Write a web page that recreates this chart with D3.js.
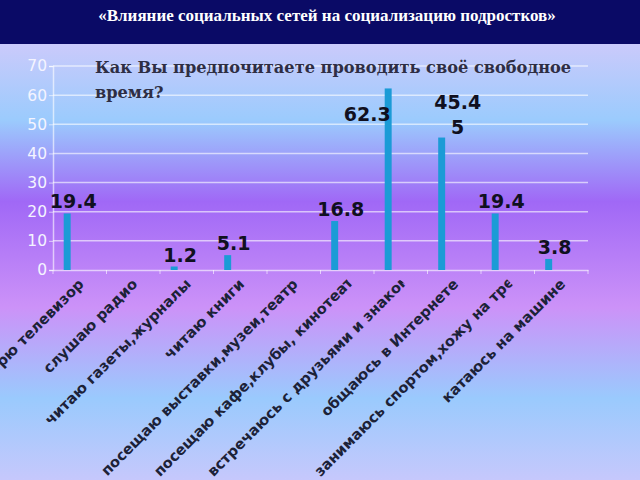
<!DOCTYPE html>
<html><head><meta charset="utf-8">
<script src="https://cdn.jsdelivr.net/npm/d3@7/dist/d3.min.js"></script>
<style>html,body{margin:0;padding:0;overflow:hidden;background:#fff}</style>
</head><body>
<script>
const headerTitle = "«Влияние социальных сетей на социализацию подростков»";
const questionLines = ["Как Вы предпочитаете проводить своё свободное", "время?"];
const categories = [
  "смотрю телевизор",
  "слушаю радио",
  "читаю газеты,журналы",
  "читаю книги",
  "посещаю выставки,музеи,театр",
  "посещаю кафе,клубы, кинотеатры",
  "встречаюсь с друзьями и знакомыми",
  "общаюсь в Интернете",
  "занимаюсь спортом,хожу на тренировки",
  "катаюсь на машине"
];
const values = [19.4, 0, 1.2, 5.1, 0, 16.8, 62.3, 45.45, 19.4, 3.8];
const yTicks = [0, 10, 20, 30, 40, 50, 60, 70];

const W = 640, H = 480;
const svg = d3.select("body").append("svg").attr("width", W).attr("height", H)
  .style("display", "block");
const defs = svg.append("defs");
const grad = defs.append("linearGradient").attr("id", "bg").attr("x1", 0).attr("y1", 0).attr("x2", 0).attr("y2", 1);
[[0, "#cccafb"], [0.09, "#cbcafb"], [0.25, "#9bcbfd"], [0.42, "#a068f6"], [0.64, "#cc92f8"], [0.83, "#9acafd"], [1, "#c6c8fc"]]
  .forEach(([o, c]) => grad.append("stop").attr("offset", o).attr("stop-color", c));
svg.append("rect").attr("width", W).attr("height", H).attr("fill", "url(#bg)");

// header
svg.append("rect").attr("width", W).attr("height", 44).attr("fill", "#0a0a66");
svg.append("text").attr("x", 327).attr("y", 21).attr("text-anchor", "middle")
  .attr("font-family", "'Liberation Serif','Times New Roman',serif").attr("font-weight", "bold")
  .attr("font-size", 17).attr("fill", "#ffffff").text(headerTitle);

const x = d3.scaleBand().domain(categories).range([53, 588]).paddingInner(0).paddingOuter(0);
const y = d3.scaleLinear().domain([0, 70]).range([270, 66]);
const bw = x.bandwidth();
const gridCol = "rgba(255,255,255,0.6)";

// gridlines
svg.append("g").selectAll("line").data(yTicks.filter(t => t > 0)).join("line")
  .attr("x1", 53).attr("x2", 588).attr("y1", d => y(d)).attr("y2", d => y(d))
  .attr("stroke", gridCol).attr("stroke-width", 1.5);

// y axis
const yAxis = svg.append("g").attr("transform", "translate(53,0)")
  .call(d3.axisLeft(y).tickValues(yTicks).tickSize(4).tickPadding(2));
yAxis.select(".domain").attr("stroke", gridCol).attr("stroke-width", 1.5);
yAxis.selectAll(".tick line").attr("stroke", gridCol);
yAxis.selectAll("text").attr("fill", "#f4f4ff").attr("font-family", "'DejaVu Sans',Verdana,sans-serif")
  .attr("font-size", 15.5);

// x axis
const xAxis = svg.append("g").attr("transform", "translate(0,270)")
  .call(d3.axisBottom(x).tickSize(0).tickFormat(""));
xAxis.select(".domain").attr("stroke", gridCol).attr("stroke-width", 1.5);
svg.append("g").selectAll("line").data(categories.concat([null])).join("line")
  .attr("x1", (d, i) => 53 + i * bw).attr("x2", (d, i) => 53 + i * bw)
  .attr("y1", 270).attr("y2", 274).attr("stroke", gridCol);

// question text
const q = svg.append("text").attr("font-family", "'DejaVu Serif','Liberation Serif',serif")
  .attr("font-weight", "bold").attr("font-size", 16.2).attr("fill", "#2e2e44");
questionLines.forEach((l, i) => q.append("tspan").attr("x", 95).attr("y", 73 + i * 25).text(l));

// bars
const barX = c => x(c) + bw * 0.2;
const barW = bw * 0.13;
svg.append("g").selectAll("rect").data(categories.map((c, i) => ({c, v: values[i]})).filter(d => d.v > 0))
  .join("rect")
  .attr("x", d => barX(d.c)).attr("width", barW)
  .attr("y", d => y(d.v)).attr("height", d => y(0) - y(d.v))
  .attr("fill", "#1b9bd6");

// value labels
const lbl = svg.append("g").attr("font-family", "'DejaVu Sans',Verdana,sans-serif")
  .attr("font-weight", "bold").attr("font-size", 19).attr("fill", "#101020");
categories.forEach((c, i) => {
  const v = values[i];
  if (!(v > 0)) return;
  const s = String(v);
  const cx = barX(c) + barW / 2;
  if (y(v) < 100) {
    lbl.append("text").attr("x", cx - 21).attr("y", y(v) + 33).attr("text-anchor", "middle").text(s);
  } else if (s.length > 4) {
    const t = lbl.append("text").attr("text-anchor", "middle");
    t.append("tspan").attr("x", cx + 16).attr("y", y(v) - 29).text(s.slice(0, 4));
    t.append("tspan").attr("x", cx + 16).attr("y", y(v) - 4).text(s.slice(4));
  } else {
    lbl.append("text").attr("x", cx + 6).attr("y", y(v) - 5).attr("text-anchor", "middle").text(s);
  }
});

// category labels
const maxLen = 272;
const cl = svg.append("g").attr("font-family", "'DejaVu Sans',Verdana,sans-serif")
  .attr("font-weight", "bold").attr("font-size", 14.6).attr("fill", "#1c2238");
categories.forEach((c, i) => {
  const ex = x(c) + bw / 2 + 5, ey = 285;
  const g = cl.append("g").attr("transform", `translate(${ex},${ey}) rotate(-45)`);
  const t = g.append("text").attr("text-anchor", "end").attr("x", 0).attr("y", 0).text(c);
  const len = t.node().getComputedTextLength();
  if (len > maxLen) {
    const id = "clip" + i;
    defs.append("clipPath").attr("id", id).append("rect")
      .attr("x", -maxLen).attr("y", -30).attr("width", maxLen).attr("height", 40);
    t.attr("text-anchor", "start").attr("x", -maxLen);
    g.attr("clip-path", `url(#${id})`);
  }
});
</script>
</body></html>
